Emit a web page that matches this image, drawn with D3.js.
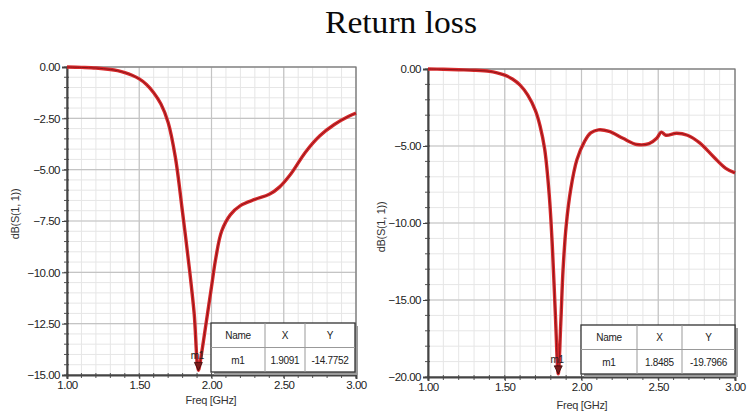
<!DOCTYPE html>
<html>
<head>
<meta charset="utf-8">
<script src="https://cdn.jsdelivr.net/npm/d3@7"></script>
<style>
  body { margin: 0; background: #fff; }
  svg { display: block; }
  .tick text { font-family: "Liberation Sans", Arial, sans-serif; font-size: 11.5px; fill: #222; letter-spacing: -0.5px; }
  .axtitle { font-family: "Liberation Sans", Arial, sans-serif; font-size: 11px; fill: #333; letter-spacing: -0.3px; }
  .tbl { font-family: "Liberation Sans", Arial, sans-serif; font-size: 10px; fill: #222; letter-spacing: -0.3px; }
</style>
</head>
<body>
<svg width="748" height="416"></svg>
<script>
// left panel: freq (GHz) and dB(S(1,1))
let freqA = [1.00, 1.10, 1.20, 1.30, 1.35, 1.40, 1.45, 1.50, 1.55, 1.60, 1.65, 1.70, 1.75, 1.80, 1.85, 1.88, 1.9091,
             1.93, 1.96, 2.00, 2.03, 2.07, 2.13, 2.20, 2.30, 2.40, 2.47, 2.55, 2.65, 2.75, 2.85, 2.95, 3.00];
let s11A  = [0.0, -0.02, -0.05, -0.12, -0.18, -0.27, -0.40, -0.58, -0.85, -1.25, -1.8, -2.7, -4.4, -7.1, -10.0, -12.0, -14.7752,
             -14.0, -12.6, -10.7, -9.3, -8.0, -7.2, -6.75, -6.45, -6.2, -5.85, -5.2, -4.15, -3.35, -2.8, -2.4, -2.25];

// right panel
let freqB = [1.00, 1.10, 1.20, 1.30, 1.40, 1.45, 1.50, 1.55, 1.60, 1.65, 1.70, 1.73, 1.76, 1.79, 1.81, 1.83, 1.8485,
             1.865, 1.88, 1.90, 1.93, 1.97, 2.02, 2.06, 2.11, 2.18, 2.27, 2.36, 2.44, 2.49, 2.52, 2.55, 2.62, 2.69, 2.77, 2.86, 2.94, 3.00];
let s11B  = [0.0, -0.02, -0.05, -0.08, -0.15, -0.25, -0.4, -0.65, -1.05, -1.7, -2.7, -3.7, -5.2, -8.2, -11.5, -16.0, -19.7966,
             -16.5, -13.0, -10.2, -7.8, -5.9, -4.7, -4.15, -3.95, -4.05, -4.5, -4.9, -4.85, -4.5, -4.1, -4.3, -4.17, -4.3, -4.8, -5.7, -6.45, -6.75];

let xTicks = [1.00, 1.50, 2.00, 2.50, 3.00];
let yTicksA = [0, -2.5, -5, -7.5, -10, -12.5, -15];
let yTicksB = [0, -5, -10, -15, -20];

let markerA = {name: "m1", x: "1.9091", y: "-14.7752"};
let markerB = {name: "m1", x: "1.8485", y: "-19.7966"};

let svg = d3.select("svg");

svg.append("text")
  .attr("x", 401).attr("y", 33)
  .attr("text-anchor", "middle")
  .attr("font-family", "Liberation Serif, Times New Roman, serif")
  .attr("font-size", 31)
  .attr("textLength", 152)
  .attr("lengthAdjust", "spacingAndGlyphs")
  .attr("fill", "#0a0a0a")
  .text("Return loss");

let drawPanel = function(p) {
  let x = d3.scaleLinear().domain([1, 3]).range([p.left, p.right]);
  let y = d3.scaleLinear().domain([0, p.yMin]).range([p.top, p.bottom]);

  let g = svg.append("g");

  // minor grid
  let minorX = d3.range(1, 3.0001, 0.1);
  let minorY = d3.range(0, p.yMin - 0.0001, -p.minorStep);
  g.selectAll("line.mx").data(minorX).enter().append("line")
    .attr("x1", d => x(d)).attr("x2", d => x(d))
    .attr("y1", p.top).attr("y2", p.bottom)
    .attr("stroke", "#e6e6e6").attr("stroke-width", 1);
  g.selectAll("line.my").data(minorY).enter().append("line")
    .attr("y1", d => y(d)).attr("y2", d => y(d))
    .attr("x1", p.left).attr("x2", p.right)
    .attr("stroke", "#e6e6e6").attr("stroke-width", 1);

  // major grid
  g.selectAll("line.Mx").data(xTicks).enter().append("line")
    .attr("x1", d => x(d)).attr("x2", d => x(d))
    .attr("y1", p.top).attr("y2", p.bottom)
    .attr("stroke", "#c4c4c4").attr("stroke-width", 1.2);
  g.selectAll("line.My").data(p.yTicks).enter().append("line")
    .attr("y1", d => y(d)).attr("y2", d => y(d))
    .attr("x1", p.left).attr("x2", p.right)
    .attr("stroke", "#c4c4c4").attr("stroke-width", 1.2);

  // frame
  g.append("rect")
    .attr("x", p.left).attr("y", p.top)
    .attr("width", p.right - p.left).attr("height", p.bottom - p.top)
    .attr("fill", "none").attr("stroke", "#777").attr("stroke-width", 1.2);

  // minor ticks
  g.selectAll("line.tx").data(minorX).enter().append("line")
    .attr("x1", d => x(d)).attr("x2", d => x(d))
    .attr("y1", p.bottom - 2).attr("y2", p.bottom + 3)
    .attr("stroke", "#555");
  g.selectAll("line.ty").data(minorY).enter().append("line")
    .attr("y1", d => y(d)).attr("y2", d => y(d))
    .attr("x1", p.left - 3).attr("x2", p.left + 2)
    .attr("stroke", "#555");

  // axes
  let yAxis = d3.axisLeft(y).tickValues(p.yTicks).tickFormat(d3.format(".2f")).tickSize(5).tickPadding(2);
  let yg = g.append("g").attr("transform", "translate(" + p.left + ",0)").call(yAxis);
  yg.select(".domain").attr("stroke", "#444").attr("stroke-width", 2);
  yg.selectAll(".tick line").attr("stroke", "#444");

  let xAxis = d3.axisBottom(x).tickValues(xTicks).tickFormat(d3.format(".2f")).tickSize(4).tickPadding(2);
  let xg = g.append("g").attr("transform", "translate(0," + p.bottom + ")").call(xAxis);
  xg.select(".domain").attr("stroke", "#444").attr("stroke-width", 2);
  xg.selectAll(".tick line").attr("stroke", "#444");

  // axis titles
  g.append("text").attr("class", "axtitle")
    .attr("transform", "translate(" + p.yTitleX + "," + p.yTitleY + ")rotate(-90)")
    .attr("text-anchor", "middle")
    .text("dB(S(1, 1))");
  g.append("text").attr("class", "axtitle")
    .attr("x", p.xTitleX).attr("y", p.xTitleY)
    .attr("text-anchor", "middle")
    .text("Freq [GHz]");

  // curve
  let pts = p.freq.map((f, i) => [f, p.s11[i]]);
  let line = d3.line().x(d => x(d[0])).y(d => y(d[1])).curve(d3.curveCatmullRom.alpha(0.5));
  g.append("path").attr("d", line(pts))
    .attr("fill", "none").attr("stroke", "#d62a2c").attr("stroke-width", 3.4)
    .attr("stroke-linejoin", "round");
  g.append("path").attr("d", line(pts))
    .attr("fill", "none").attr("stroke", "#8e1418").attr("stroke-width", 1)
    .attr("stroke-linejoin", "round");

  // marker
  let mx = x(+p.marker.x), my = y(+p.marker.y);
  g.append("path")
    .attr("d", "M" + (mx - 4) + "," + (my - 8) + "L" + (mx + 4) + "," + (my - 8) + "L" + mx + "," + my + "Z")
    .attr("fill", "#7a1a1a").attr("stroke", "#3a0a0a").attr("stroke-width", 0.8);
  g.append("text").attr("class", "tbl")
    .attr("x", mx - 1).attr("y", my - 11)
    .attr("text-anchor", "middle")
    .attr("font-size", 10)
    .text(p.marker.name);

  // marker table
  let t = p.table;
  let cols = [t.x0, t.x1, t.x2, t.x3];
  let ymid = (t.y0 + t.y1) / 2;
  g.append("rect").attr("x", t.x0 + 3).attr("y", t.y0 + 3)
    .attr("width", t.x3 - t.x0).attr("height", t.y1 - t.y0)
    .attr("fill", "#9a9a9a");
  g.append("rect").attr("x", t.x0).attr("y", t.y0)
    .attr("width", t.x3 - t.x0).attr("height", t.y1 - t.y0)
    .attr("fill", "#fff").attr("stroke", "#333").attr("stroke-width", 1.3);
  g.append("line").attr("x1", t.x0).attr("x2", t.x3).attr("y1", ymid).attr("y2", ymid)
    .attr("stroke", "#999");
  [t.x1, t.x2].forEach(cx => {
    g.append("line").attr("x1", cx).attr("x2", cx).attr("y1", t.y0).attr("y2", t.y1)
      .attr("stroke", "#999");
  });
  let head = ["Name", "X", "Y"];
  let row = [p.marker.name, p.marker.x, p.marker.y];
  head.forEach((h, i) => {
    g.append("text").attr("class", "tbl")
      .attr("x", (cols[i] + cols[i + 1]) / 2).attr("y", (t.y0 + ymid) / 2 + 4)
      .attr("text-anchor", "middle").text(h);
    g.append("text").attr("class", "tbl")
      .attr("x", (cols[i] + cols[i + 1]) / 2).attr("y", (ymid + t.y1) / 2 + 4)
      .attr("text-anchor", "middle").text(row[i]);
  });
};

drawPanel({
  left: 67, right: 356, top: 67, bottom: 375, yMin: -15, minorStep: 0.5,
  yTicks: yTicksA, freq: freqA, s11: s11A, marker: markerA,
  yTitleX: 19, yTitleY: 214, xTitleX: 211, xTitleY: 404,
  table: {x0: 211, x1: 265, x2: 305, x3: 355, y0: 323, y1: 372}
});

drawPanel({
  left: 428, right: 735, top: 69, bottom: 377, yMin: -20, minorStep: 1,
  yTicks: yTicksB, freq: freqB, s11: s11B, marker: markerB,
  yTitleX: 385, yTitleY: 227, xTitleX: 582, xTitleY: 409,
  table: {x0: 581, x1: 637, x2: 682, x3: 735, y0: 325, y1: 374}
});
</script>
</body>
</html>
